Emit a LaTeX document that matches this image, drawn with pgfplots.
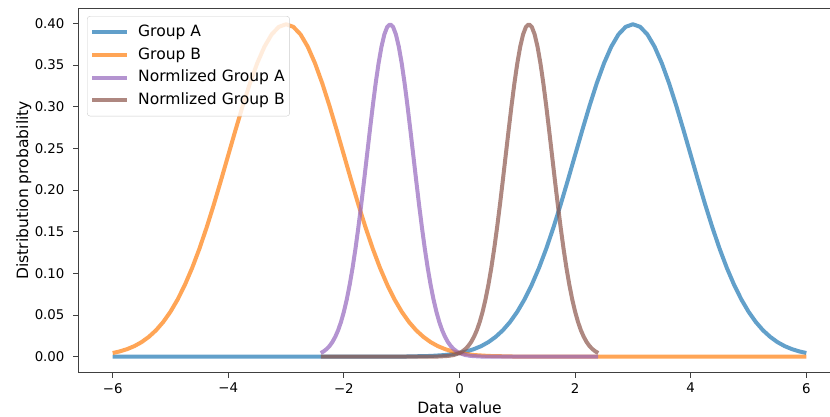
\documentclass[border=0pt]{standalone}
\usepackage{fontspec}
\setmainfont{DejaVu Sans}
\usepackage{pgfplots}
\usepackage{pgfplotstable}
\pgfplotsset{compat=1.18}
\definecolor{cA}{HTML}{1F77B4}
\definecolor{cB}{HTML}{FF7F0E}
\definecolor{cNA}{HTML}{9467BD}
\definecolor{cNB}{HTML}{8C564B}

\pgfplotstableread{
x y
-6 0
-2 0
-1 0.0001
-0.5 0.0009
-0.25 0.0020
0 0.0044
0.125 0.0064
0.25 0.0091
0.375 0.0127
0.5 0.0175
0.625 0.0238
0.75 0.0317
0.875 0.0417
1 0.0540
1.125 0.0688
1.25 0.0863
1.375 0.1065
1.5 0.1295
1.625 0.1550
1.75 0.1826
1.875 0.2119
2 0.2420
2.125 0.2720
2.25 0.3011
2.375 0.3282
2.5 0.3521
2.625 0.3719
2.75 0.3867
2.875 0.3958
3 0.3989
3.125 0.3958
3.25 0.3867
3.375 0.3719
3.5 0.3521
3.625 0.3282
3.75 0.3011
3.875 0.2720
4 0.2420
4.125 0.2119
4.25 0.1826
4.375 0.1550
4.5 0.1295
4.625 0.1065
4.75 0.0863
4.875 0.0688
5 0.0540
5.125 0.0417
5.25 0.0317
5.375 0.0238
5.5 0.0175
5.625 0.0127
5.75 0.0091
5.875 0.0064
6 0.0044
}\groupA

\pgfplotstableread{
x y
-6 0.0044
-5.875 0.0064
-5.75 0.0091
-5.625 0.0127
-5.5 0.0175
-5.375 0.0238
-5.25 0.0317
-5.125 0.0417
-5 0.0540
-4.875 0.0688
-4.75 0.0863
-4.625 0.1065
-4.5 0.1295
-4.375 0.1550
-4.25 0.1826
-4.125 0.2119
-4 0.2420
-3.875 0.2720
-3.75 0.3011
-3.625 0.3282
-3.5 0.3521
-3.375 0.3719
-3.25 0.3867
-3.125 0.3958
-3 0.3989
-2.875 0.3958
-2.75 0.3867
-2.625 0.3719
-2.5 0.3521
-2.375 0.3282
-2.25 0.3011
-2.125 0.2720
-2 0.2420
-1.875 0.2119
-1.75 0.1826
-1.625 0.1550
-1.5 0.1295
-1.375 0.1065
-1.25 0.0863
-1.125 0.0688
-1 0.0540
-0.875 0.0417
-0.75 0.0317
-0.625 0.0238
-0.5 0.0175
-0.375 0.0127
-0.25 0.0091
-0.125 0.0064
0 0.0044
0.25 0.0020
0.5 0.0009
1 0.0001
2 0
6 0
}\groupB

\pgfplotstableread{
x y
-2.4 0.0044
-2.35 0.0064
-2.3 0.0091
-2.25 0.0127
-2.2 0.0175
-2.15 0.0238
-2.1 0.0317
-2.05 0.0417
-2.0 0.0540
-1.95 0.0688
-1.9 0.0863
-1.85 0.1065
-1.8 0.1295
-1.75 0.1550
-1.7 0.1826
-1.65 0.2119
-1.6 0.2420
-1.55 0.2720
-1.5 0.3011
-1.45 0.3282
-1.4 0.3521
-1.35 0.3719
-1.3 0.3867
-1.25 0.3958
-1.2 0.3989
-1.15 0.3958
-1.1 0.3867
-1.05 0.3719
-1.0 0.3521
-0.95 0.3282
-0.9 0.3011
-0.85 0.2720
-0.8 0.2420
-0.75 0.2119
-0.7 0.1826
-0.65 0.1550
-0.6 0.1295
-0.55 0.1065
-0.5 0.0863
-0.45 0.0688
-0.4 0.0540
-0.35 0.0417
-0.3 0.0317
-0.25 0.0238
-0.2 0.0175
-0.15 0.0127
-0.1 0.0091
-0.05 0.0064
0 0.0044
0.1 0.0020
0.2 0.0009
0.4 0.0001
0.8 0
2.4 0
}\normA

\pgfplotstableread{
x y
-2.4 0
-0.8 0
-0.4 0.0001
-0.2 0.0009
-0.1 0.0020
0 0.0044
0.05 0.0064
0.1 0.0091
0.15 0.0127
0.2 0.0175
0.25 0.0238
0.3 0.0317
0.35 0.0417
0.4 0.0540
0.45 0.0688
0.5 0.0863
0.55 0.1065
0.6 0.1295
0.65 0.1550
0.7 0.1826
0.75 0.2119
0.8 0.2420
0.85 0.2720
0.9 0.3011
0.95 0.3282
1.0 0.3521
1.05 0.3719
1.1 0.3867
1.15 0.3958
1.2 0.3989
1.25 0.3958
1.3 0.3867
1.35 0.3719
1.4 0.3521
1.45 0.3282
1.5 0.3011
1.55 0.2720
1.6 0.2420
1.65 0.2119
1.7 0.1826
1.75 0.1550
1.8 0.1295
1.85 0.1065
1.9 0.0863
1.95 0.0688
2.0 0.0540
2.05 0.0417
2.1 0.0317
2.15 0.0238
2.2 0.0175
2.25 0.0127
2.3 0.0091
2.35 0.0064
2.4 0.0044
}\normB

\begin{document}
\begin{tikzpicture}
\begin{axis}[
  at={(78bp,44.3bp)}, anchor=south west,
  scale only axis, width=763bp, height=364.7bp,
  xmin=-6.6, xmax=6.6, ymin=-0.0192, ymax=0.4184,
  xtick={-6,-4,-2,0,2,4,6},
  xticklabels={−6,−4,−2,0,2,4,6},
  ytick={0,0.05,0.1,0.15,0.2,0.25,0.3,0.35,0.4},
  yticklabels={0.00,0.05,0.10,0.15,0.20,0.25,0.30,0.35,0.40},
  tick align=outside, tick pos=left,
  major tick length=5bp,
  axis line style={black!75, line width=0.9bp},
  tick style={black!75, line width=0.9bp},
  ticklabel style={font=\fontsize{13.4}{16}\selectfont, black},
  yticklabel style={xshift=-5bp},
  xticklabel style={yshift=-2bp},
  label style={font=\fontsize{15.6}{18}\selectfont, black},
  xlabel={Data value},
  ylabel={Distribution probability},
  xlabel style={at={(axis description cs:0.5,0)}, anchor=base, yshift=-40.6bp},
  ylabel style={at={(axis description cs:0,0.5)}, anchor=base, yshift=50bp},
  legend cell align=left,
  legend style={at={(0.0118,0.978)}, anchor=north west,
    font=\fontsize{15.6}{18}\selectfont,
    draw=black!20, rounded corners=3bp, fill=white, fill opacity=0.8, text opacity=1,
    inner xsep=3bp, inner ysep=6bp, row sep=3.3bp,
    nodes={inner sep=2bp, text height=12bp, text depth=3.5bp},
    /tikz/every odd column/.append style={column sep=7bp}},
  legend image code/.code={\draw[#1, line width=4bp] (0bp,0bp) -- (35bp,0bp);},
  every axis plot/.append style={line width=4bp, draw opacity=0.7, line join=round},
]
\addplot[cA] table {\groupA};
\addlegendentry{Group A}
\addplot[cB] table {\groupB};
\addlegendentry{Group B}
\addplot[cNA] table {\normA};
\addlegendentry{Normlized Group A}
\addplot[cNB] table {\normB};
\addlegendentry{Normlized Group B}
\end{axis}
\pgfresetboundingbox
\useasboundingbox (0bp,0bp) rectangle (830bp,417bp);
\end{tikzpicture}
\end{document}
